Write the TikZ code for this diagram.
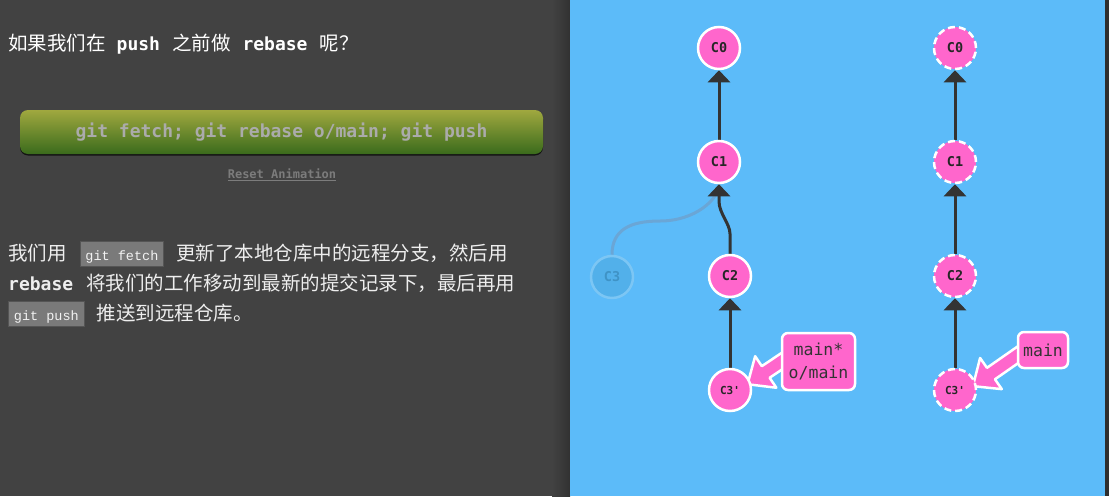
\documentclass[tikz,border=0pt]{standalone}
\usepackage{fontspec}
\setmainfont{Noto Sans CJK SC}
\setmonofont{DejaVu Sans Mono}
\newfontfamily\chipfont{Liberation Mono}
\usetikzlibrary{arrows.meta,calc,positioning,shadows}

\definecolor{panelgray}{HTML}{424242}
\definecolor{skyblue}{HTML}{5CBBF9}
\definecolor{commitpink}{HTML}{FF66CC}
\definecolor{edgegray}{HTML}{333333}
\definecolor{btntop}{HTML}{A0A83F}
\definecolor{btnbot}{HTML}{3A6B1C}
\definecolor{btntext}{HTML}{ABABAB}
\definecolor{resetgray}{HTML}{7C7C7C}
\definecolor{bodywhite}{HTML}{EEEEEE}
\definecolor{chipgray}{HTML}{7A7A7A}
\definecolor{chipedge}{HTML}{555555}
\definecolor{chiptext}{HTML}{F2F2F2}
\definecolor{ghostfill}{HTML}{52B0EA}
\definecolor{ghostedge}{HTML}{7CC6F4}
\definecolor{ghosttext}{HTML}{3F93C6}
\definecolor{ghostline}{HTML}{6AA6D6}

\pgfdeclarelayer{panel}
\pgfdeclarelayer{links}
\pgfsetlayers{panel,links,main}

\setlength{\fboxsep}{3pt}
\setlength{\fboxrule}{0.8pt}
\newcommand{\codechip}[1]{\fcolorbox{chipedge}{chipgray}{\hspace{2pt}\rule[-3pt]{0pt}{18.2pt}\chipfont\fontsize{13.5}{13.5}\selectfont\textcolor{chiptext}{#1}\hspace{2pt}}}
\newcommand{\kw}[1]{{\ttfamily\bfseries\fontsize{18}{18}\selectfont #1}}

% fat pointer from a branch label (#1) to a commit (#2)
\newcommand{\branchptr}[2]{%
  \coordinate (bp-h) at ($(#2)!22pt!(#1)$);
  \filldraw[pointer] (#2) -- ($(bp-h)!19pt!90:(#2)$) -- ($(bp-h)!7pt!90:(#2)$)
    -- ($(#1)!7pt!90:(#2)$) -- ($(#1)!7pt!-90:(#2)$)
    -- ($(bp-h)!7pt!-90:(#2)$) -- ($(bp-h)!19pt!-90:(#2)$) -- cycle;}

\begin{document}
\begin{tikzpicture}[x=1pt,y=1pt,
  commit/.style={circle, draw=white, line width=2.5pt, fill=commitpink,
    minimum size=42pt, inner sep=0pt, text=black!85,
    font=\ttfamily\bfseries\fontsize{13.5}{13.5}\selectfont},
  remote/.style={commit, dash pattern=on 7pt off 4pt},
  ghost/.style={commit, draw=ghostedge, fill=ghostfill, text=ghosttext},
  parent/.style={edgegray, line width=3pt, -{Triangle[width=22pt,length=12pt]}},
  ghostlink/.style={ghostline, line width=3pt},
  branch/.style={draw=white, line width=2.5pt, fill=commitpink, rounded corners=6pt,
    align=center, inner sep=2pt, text=black!80,
    font=\ttfamily\fontsize{16.5}{23}\selectfont},
  pointer/.style={fill=commitpink, draw=white, line width=2.5pt, line join=round},
  bodytext/.style={anchor=base west, inner sep=0pt, text=bodywhite,
    font=\fontsize{19.5}{19.5}\selectfont},
  runbutton/.style={rounded corners=8pt, top color=btntop, bottom color=btnbot,
    minimum width=523pt, minimum height=44pt, text=btntext,
    font=\ttfamily\bfseries\fontsize{18}{18}\selectfont,
    drop shadow={shadow xshift=0pt, shadow yshift=-1.5pt, opacity=0.7, fill=black}}]

\useasboundingbox (0,0) rectangle (1109,-496);
\begin{pgfonlayer}{panel}
  \fill[panelgray] (0,0) rectangle (1109,-496);
  \shade[left color=panelgray, right color=panelgray!75!black] (552,0) rectangle (570,-496);
  \fill[skyblue] (570,0) rectangle (1105,-496);
  \fill[panelgray!70!black] (1105,0) rectangle (1109,-496);
\end{pgfonlayer}

% left side: question, command button, explanation
\node[bodytext, text=white] (title) at (8,-50)
  {如果我们在\hspace{11pt}\kw{push}\hspace{12pt}之前做\hspace{12pt}\kw{rebase}\hspace{12pt}呢？};
\node[runbutton] (runbtn) at (281.5,-132) {git fetch; git rebase o/main; git push};
\node[text=resetgray, font=\ttfamily\bfseries\fontsize{12}{12}\selectfont] (reset) at (282,-175)
  {\underline{Reset Animation}};
\node[bodytext] (line1) at (8,-260)
  {我们用\hspace{13pt}\codechip{git fetch}\hspace{12pt}更新了本地仓库中的远程分支，然后用};
\node[bodytext] (line2) at (8,-290)
  {\kw{rebase}\hspace{13pt}将我们的工作移动到最新的提交记录下，最后再用};
\node[bodytext] (line3) at (8,-320) {\codechip{git push}\hspace{12pt}推送到远程仓库。};

% local repository
\node[commit] (c0l) at (719,-48) {C0};
\node[commit] (c1l) at (719,-162) {C1};
\node[commit] (c2l) at (730,-276) {C2};
\node[commit, font=\ttfamily\bfseries\fontsize{11}{11}\selectfont] (c3pl) at (730,-390) {C3'};
\node[ghost] (c3) at (612,-277) {C3};
\node[branch, minimum width=73pt, minimum height=57pt] (lbl-l) at (818.5,-361.5) {main*\\o/main};

% remote repository
\node[remote] (c0r) at (955,-48) {C0};
\node[remote] (c1r) at (955,-162) {C1};
\node[remote] (c2r) at (955,-276) {C2};
\node[remote, font=\ttfamily\bfseries\fontsize{11}{11}\selectfont] (c3pr) at (955,-390) {C3'};
\node[branch, minimum width=50pt, minimum height=36pt] (lbl-r) at (1043,-350) {main};

\begin{pgfonlayer}{links}
  \draw[ghostlink] (c3.north) .. controls +(0,25) and +(-30,0) .. (660,-221)
    .. controls +(35,0) and +(0,-15) .. (c1l.south);
  \draw[parent] (c1l) -- (c0l);
  \draw[parent] (c2l.north) -- ++(0,20) .. controls +(0,10) and +(0,-12) ..
    ($(c1l.south)+(0,-17)$) -- (c1l.south);
  \draw[parent] (c3pl) -- (c2l);
  \draw[parent] (c1r) -- (c0r);
  \draw[parent] (c2r) -- (c1r);
  \draw[parent] (c3pr) -- (c2r);

  \coordinate (tip-l) at ($(c3pl.15)+(-4,0)$);
  \coordinate (tail-l) at ($(lbl-l.west)+(8,5)$);
  \branchptr{tail-l}{tip-l}
  \coordinate (tip-r) at ($(c3pr.10)+(-4,0)$);
  \coordinate (tail-r) at ($(lbl-r.west)+(8,0)$);
  \branchptr{tail-r}{tip-r}
\end{pgfonlayer}
\end{tikzpicture}
\end{document}
